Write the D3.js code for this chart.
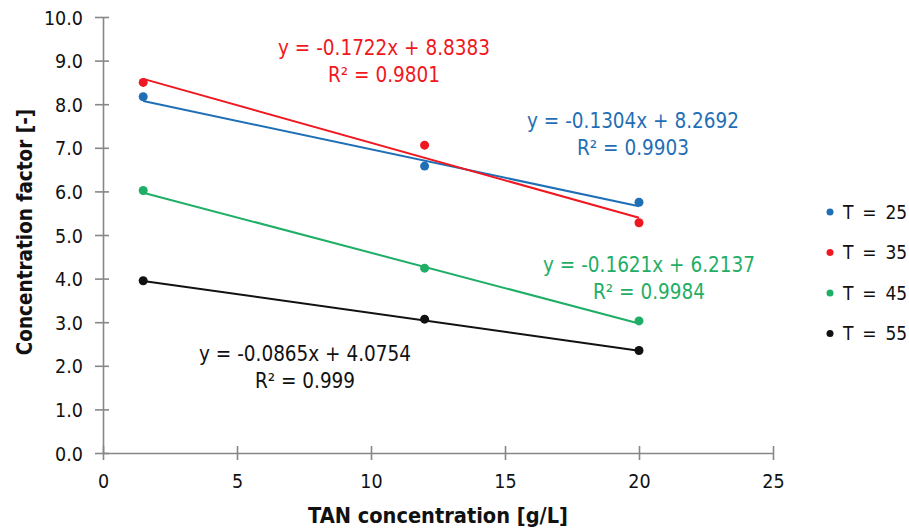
<!DOCTYPE html>
<html>
<head>
<meta charset="utf-8">
<script src="https://cdn.jsdelivr.net/npm/d3@7"></script>
<style>
  html, body { margin: 0; padding: 0; background: #fff; }
  svg text { font-family: "DejaVu Sans Condensed", "DejaVu Sans", sans-serif; font-stretch: condensed; }
</style>
</head>
<body>
<svg id="chart" width="909" height="531"></svg>
<script>
// TAN concentration (g/L) at which the concentration factor was measured
const tan = [1.5, 12, 20];

// Concentration factor per temperature series
const seriesNames = ["T = 25", "T = 35", "T = 45", "T = 55"];
const t25 = [8.17, 6.58, 5.75];
const t35 = [8.50, 7.06, 5.28];
const t45 = [6.02, 4.24, 3.03];
const t55 = [3.95, 3.07, 2.35];

// Linear trendline coefficients and fit quality
const slopes = [-0.1304, -0.1722, -0.1621, -0.0865];
const intercepts = [8.2692, 8.8383, 6.2137, 4.0754];
const r2 = ["0.9903", "0.9801", "0.9984", "0.999"];

// Axis ticks
const xTickValues = [0, 5, 10, 15, 20, 25];
const yTickValues = [0, 1, 2, 3, 4, 5, 6, 7, 8, 9, 10];

const colors = ["#1f6fb6", "#f01820", "#1fae66", "#111111"];
const values = [t25, t35, t45, t55];

const svg = d3.select("#chart");
const x = d3.scaleLinear().domain([0, 25]).range([103, 773]);
const y = d3.scaleLinear().domain([0, 10]).range([453, 17]);

const axisColor = "#878787";

// Y axis
const yAxis = svg.append("g").attr("transform", `translate(${x(0)},0)`)
  .call(d3.axisLeft(y).tickValues(yTickValues).tickFormat(d3.format(".1f")).tickSizeOuter(0).tickSizeInner(0).tickPadding(20));
yAxis.select(".domain").attr("stroke", axisColor).attr("stroke-width", 1.6);
yAxis.selectAll(".tick text").attr("font-size", 19.5).attr("fill", "#111").attr("dy", "0.36em");
yAxis.selectAll(".tick").append("line")
  .attr("x1", -8).attr("x2", 6).attr("stroke", axisColor).attr("stroke-width", 1.6);

// X axis
const xAxis = svg.append("g").attr("transform", `translate(0,${y(0)})`)
  .call(d3.axisBottom(x).tickValues(xTickValues).tickSizeOuter(0).tickSizeInner(0).tickPadding(21));
xAxis.select(".domain").attr("stroke", axisColor).attr("stroke-width", 1.6);
xAxis.selectAll(".tick text").attr("font-size", 19.5).attr("fill", "#111");
xAxis.selectAll(".tick").append("line")
  .attr("y1", -7).attr("y2", 7).attr("stroke", axisColor).attr("stroke-width", 1.6);

// Axis titles
svg.append("text")
  .attr("x", 438).attr("y", 523)
  .attr("text-anchor", "middle")
  .attr("font-size", 21.6).attr("font-weight", "bold").attr("fill", "#111")
  .text("TAN concentration [g/L]");

svg.append("text")
  .attr("transform", "translate(32,232) rotate(-90)")
  .attr("text-anchor", "middle")
  .attr("font-size", 20.5).attr("font-weight", "bold").attr("fill", "#111")
  .text("Concentration factor [-]");

// Trendlines
const xStart = d3.min(tan), xEnd = d3.max(tan);
const trend = svg.append("g");
[0, 1, 2, 3].forEach(i => {
  trend.append("line")
    .attr("x1", x(xStart)).attr("y1", y(slopes[i] * xStart + intercepts[i]))
    .attr("x2", x(xEnd)).attr("y2", y(slopes[i] * xEnd + intercepts[i]))
    .attr("stroke", colors[i]).attr("stroke-width", 2);
});

// Measured points
const pts = svg.append("g");
values.forEach((vals, i) => {
  pts.selectAll(null).data(vals).enter().append("circle")
    .attr("cx", (d, j) => x(tan[j]))
    .attr("cy", d => y(d))
    .attr("r", 4.5)
    .attr("fill", colors[i]);
});

// Trendline equations
const eqPos = [[633, 128], [384, 55], [649, 272], [305, 361]];
const fmt = d3.format(".4f");
[0, 1, 2, 3].forEach(i => {
  const g = svg.append("g").attr("fill", colors[i]).attr("font-size", 20.5).attr("text-anchor", "middle");
  g.append("text").attr("x", eqPos[i][0]).attr("y", eqPos[i][1])
    .text(`y = -${fmt(-slopes[i])}x + ${fmt(intercepts[i])}`);
  g.append("text").attr("x", eqPos[i][0]).attr("y", eqPos[i][1] + 27)
    .text(`R² = ${r2[i]}`);
});

// Legend
const legend = svg.append("g");
seriesNames.forEach((name, i) => {
  const ly = 212 + i * 40.5;
  legend.append("circle").attr("cx", 830).attr("cy", ly).attr("r", 3.5).attr("fill", colors[i]);
  legend.append("text").attr("x", 843).attr("y", ly).attr("dy", "0.36em")
    .attr("font-size", 19).attr("fill", "#111").text(name.replace(/ /g, "\u2009 "));
});
</script>
</body>
</html>
